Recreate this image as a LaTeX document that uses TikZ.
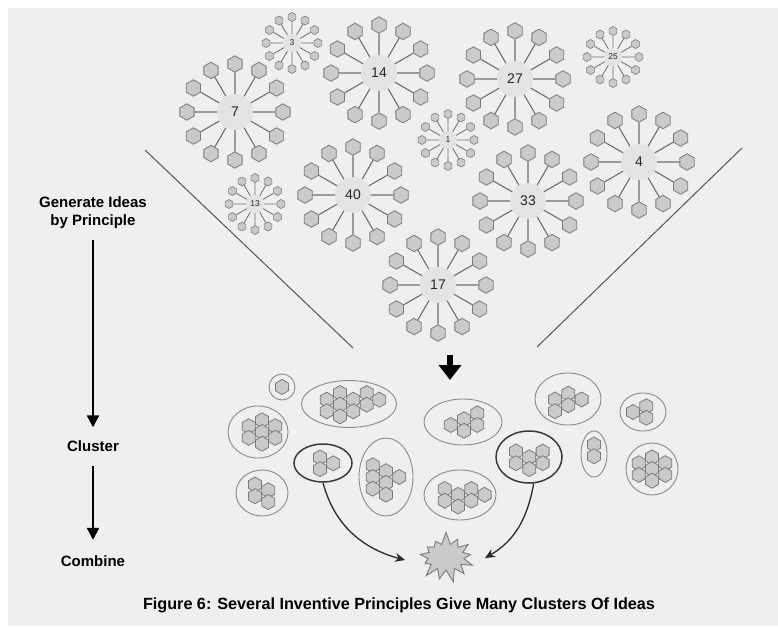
\documentclass[tikz,border=0pt]{standalone}
\usepackage{fontspec}
\setmainfont{Liberation Sans}
\usetikzlibrary{shapes.geometric,shapes.symbols,arrows.meta}
\definecolor{bg}{HTML}{EFEFEF}
\definecolor{hexfill}{HTML}{CACACA}
\definecolor{hexline}{HTML}{7A7A7A}
\definecolor{hubfill}{HTML}{E3E3E3}
\definecolor{spokecol}{HTML}{6E6E6E}
\definecolor{grpline}{HTML}{8A8A8A}
\definecolor{boldline}{HTML}{3A3A3A}
\definecolor{darkline}{HTML}{2A2A2A}
\definecolor{diagline}{HTML}{555555}
\tikzset{
  hexa/.style={regular polygon, regular polygon sides=6, rotate=30, minimum size=16.5pt, inner sep=0pt,
    fill=hexfill, draw=hexline, line width=0.8pt},
  cellhex/.style={hexa, minimum size=15pt},
  tinyhex/.style={hexa, minimum size=9pt, line width=0.6pt},
  hub/.style={circle, fill=hubfill, minimum size=36pt, inner sep=0pt,
    font=\fontsize{14}{14}\selectfont, text=black!85},
  smallhub/.style={circle, fill=hubfill, minimum size=18pt, inner sep=0pt,
    font=\fontsize{8.5}{8.5}\selectfont, text=black!85},
  spokeline/.style={draw=spokecol, line width=1.1pt},
  thinspoke/.style={draw=spokecol, line width=0.8pt},
  grp/.style={ellipse, draw=grpline, line width=0.9pt, inner sep=0pt},
  boldgrp/.style={ellipse, draw=boldline, line width=1.5pt, inner sep=0pt},
  lbl/.style={font=\bfseries\fontsize{15}{18.5}\selectfont, inner sep=0pt, align=center},
  leftarrow/.style={draw=black, line width=2.4pt, -{Triangle[width=12pt,length=12pt]}},
  curvearrow/.style={draw=darkline, line width=1.3pt, -{Stealth[width=9pt,length=10pt]}},
  diag/.style={draw=diagline, line width=1pt}
}
\newcommand\bigburst[4]{%
  \node[hub] (#1) at (#2,#3) {#4};
  \foreach \a [count=\i] in {0,30,...,330}{
    \node[hexa] (#1h\i) at ([shift={(\a:48)}]#2,#3) {};
    \draw[spokeline] (#1) -- (#1h\i);
  }}
\newcommand\smallburst[4]{%
  \node[smallhub] (#1) at (#2,#3) {#4};
  \foreach \a [count=\i] in {0,30,...,330}{
    \node[tinyhex] (#1h\i) at ([shift={(\a:26)}]#2,#3) {};
    \draw[thinspoke] (#1) -- (#1h\i);
  }}
% name, style, cx, cy, width, height, hexagon centres
\newcommand\cluster[7]{%
  \node[#2, minimum width=#5, minimum height=#6] (#1) at (#3,#4) {};
  \foreach \p [count=\i] in {#7}{
    \node[cellhex] (#1h\i) at \p {};
  }}
\begin{document}
\begin{tikzpicture}[x=1pt,y=-1pt]
\useasboundingbox (0,0) rectangle (778,626);
\fill[white] (0,0) rectangle (778,626);
\fill[bg] (8,8) rectangle (778,626);

% diagonal funnel lines
\coordinate (la) at (145,150);
\coordinate (lb) at (353,348);
\coordinate (ra) at (742,148);
\coordinate (rb) at (537,347);
\draw[diag] (la) -- (lb);
\draw[diag] (ra) -- (rb);

% idea bursts
\bigburst{b7}{235}{112}{7}
\bigburst{b14}{379}{73}{14}
\bigburst{b27}{515}{79}{27}
\bigburst{b4}{639}{162}{4}
\bigburst{b40}{353}{195}{40}
\bigburst{b33}{528}{201}{33}
\bigburst{b17}{438}{285}{17}
\smallburst{s3}{292}{43}{3}
\smallburst{s1}{448}{140}{1}
\smallburst{s13}{255}{204}{13}
\smallburst{s25}{613}{57}{25}

% big down arrow
\coordinate (bda) at (450,355);
\coordinate (bdb) at (450,380);
\draw[line width=6pt, -{Triangle[width=22pt,length=15pt]}] (bda) -- (bdb);

% clusters
\cluster{c1}{grp}{282}{387}{26}{26}{(282,387)}
\cluster{c2}{grp}{349}{404}{95}{47}{(326.7,399.7),(326.7,411.3),(340,393),(340,404.7),(340,416.3),(353.3,399.7),(353.3,411.3),(366.7,393),(366.7,404.7),(379.3,399.7)}
\cluster{c3}{grp}{258}{432}{60}{52}{(248.7,426.2),(248.7,437.8),(262,420.3),(262,432),(262,443.7),(275.3,426.2),(275.3,437.8)}
\cluster{c4}{boldgrp}{323}{463}{58}{38}{(320,457.5),(320,469.2),(333.3,463.3)}
\cluster{c5}{grp}{262}{493}{52}{46}{(255,484.5),(255,496.2),(268.3,490.3),(268.3,502)}
\cluster{c6}{grp}{386}{477}{54}{78}{(372.7,465.3),(372.7,477),(372.7,488.7),(386,471.2),(386,482.9),(386,494.6),(399.3,477)}
\cluster{c7}{grp}{463}{422}{78}{46}{(450.7,425),(464,419.2),(464,430.8),(477.3,413.3),(477.3,425)}
\cluster{c8}{grp}{460}{495}{72}{50}{(444.7,489),(444.7,500.7),(458,494.8),(458,506.5),(471.3,489),(471.3,500.7),(484.6,494.8)}
\cluster{c9}{grp}{568}{399}{66}{52}{(555,399.5),(555,411.2),(568.3,393.7),(568.3,405.3),(581.6,399.5)}
\cluster{c10}{grp}{643}{412}{46}{38}{(633,412),(646.3,406.2),(646.3,417.8)}
\cluster{c11}{boldgrp}{529}{457}{66}{52}{(516,451.5),(516,463.2),(529.3,457.3),(529.3,469),(542.6,451.5),(542.6,463.2)}
\cluster{c12}{grp}{594}{454}{26}{46}{(594,444.5),(594,456.2)}
\cluster{c13}{grp}{652}{469}{52}{52}{(638.7,463.2),(638.7,474.9),(652,457.4),(652,469),(652,480.7),(665.3,463.2),(665.3,474.9)}

% combination
\node[starburst, starburst points=13, starburst point height=13pt, random starburst=7,
      minimum width=62pt, minimum height=52pt, inner sep=0pt,
      fill=hexfill, draw=hexline, line width=0.9pt] (star) at (446,557) {};
\coordinate (ltip) at (405,560);
\coordinate (rtip) at (485,558);
\draw[curvearrow] (c4.south) to[out=-75,in=165] (ltip);
\draw[curvearrow] (c11.-80) to[out=-100,in=30] (rtip);

% left process labels
\node[lbl] (gen) at (93,212.5) {Generate Ideas\\by Principle};
\node[lbl] (clu) at (93,446.5) {Cluster};
\node[lbl] (com) at (93,561.5) {Combine};
\draw[leftarrow, shorten <=11pt, shorten >=13.5pt] (gen) -- (clu);
\draw[leftarrow, shorten <=13.5pt, shorten >=16pt] (clu) -- (com);

% caption
\node[font=\bfseries\fontsize{16.2}{16.2}\selectfont, inner sep=0pt] (cap) at (399,605)
  {Figure 6: Several Inventive Principles Give Many Clusters Of Ideas};
\end{tikzpicture}
\end{document}
